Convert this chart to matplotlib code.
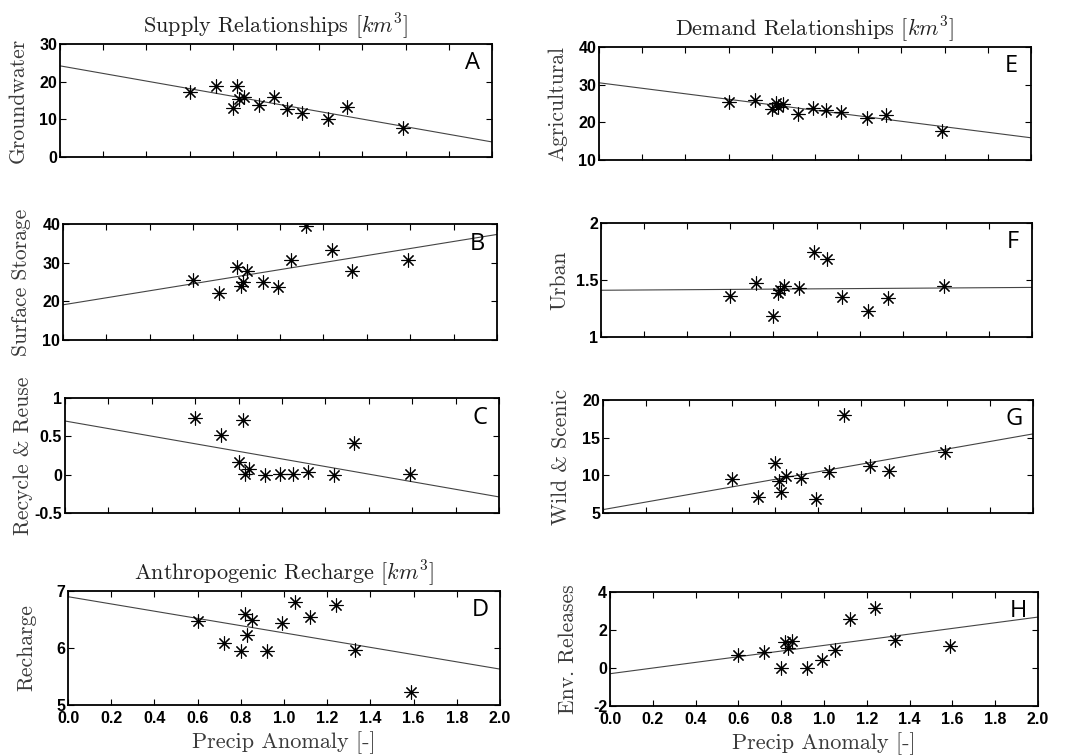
import matplotlib
matplotlib.use("Agg")
import matplotlib.pyplot as plt
import numpy as np
from matplotlib.ticker import FuncFormatter

plt.rcParams["mathtext.fontset"] = "cm"
plt.rcParams["axes.unicode_minus"] = False

# precipitation anomaly (shared x)
precip = [0.60, 0.72, 0.80, 0.82, 0.83, 0.85, 0.92, 0.99, 1.05, 1.12, 1.24, 1.33, 1.59]

# supply side
groundwater = [17.2, 18.9, 13.0, 18.9, 15.4, 16.0, 13.8, 15.8, 12.8, 11.7, 10.2, 13.2, 7.7]
surface_storage = [25.4, 22.2, 28.9, 24.0, 25.1, 27.8, 25.1, 23.6, 30.6, 39.6, 33.2, 27.8, 30.8]
recycle_reuse = [0.74, 0.52, 0.17, 0.71, 0.01, 0.07, -0.01, 0.01, 0.01, 0.04, -0.01, 0.41, 0.01]
recharge = [6.48, 6.09, 5.95, 6.60, 6.23, 6.50, 5.95, 6.43, 6.80, 6.54, 6.75, 5.97, 5.22]

# demand side
agricultural = [25.4, 26.0, 23.5, 25.2, 24.0, 24.9, 22.1, 23.7, 23.2, 22.8, 21.1, 22.0, 17.6]
urban = [1.36, 1.475, 1.18, 1.39, 1.41, 1.45, 1.43, 1.75, 1.68, 1.35, 1.225, 1.34, 1.445]
wild_scenic = [9.5, 7.1, 11.6, 9.3, 7.8, 9.9, 9.6, 6.8, 10.4, 18.0, 11.2, 10.6, 13.1]
env_releases = [0.67, 0.85, -0.02, 1.35, 1.05, 1.40, -0.02, 0.40, 0.96, 2.60, 3.18, 1.46, 1.17]

# fitted lines: (value at 0, value at 2)
fits = {
    "A": (24.2, 4.0),
    "B": (19.1, 37.3),
    "C": (0.70, -0.29),
    "D": (6.90, 5.63),
    "E": (30.5, 15.9),
    "F": (1.41, 1.435),
    "G": (5.45, 15.5),
    "H": (-0.30, 2.68),
}

ylabels = {
    "A": "Groundwater", "B": "Surface Storage", "C": "Recycle & Reuse", "D": "Recharge",
    "E": "Agricultural", "F": "Urban", "G": "Wild & Scenic", "H": "Env. Releases",
}
ylims = {"A": (0, 30), "B": (10, 40), "C": (-0.5, 1), "D": (5, 7),
         "E": (10, 40), "F": (1, 2), "G": (5, 20), "H": (-2, 4)}
yticks = {"A": [0, 10, 20, 30], "B": [10, 20, 30, 40], "C": [-0.5, 0, 0.5, 1],
          "D": [5, 6, 7], "E": [10, 20, 30, 40], "F": [1, 1.5, 2],
          "G": [5, 10, 15, 20], "H": [-2, 0, 2, 4]}
series = {"A": groundwater, "B": surface_storage, "C": recycle_reuse, "D": recharge,
          "E": agricultural, "F": urban, "G": wild_scenic, "H": env_releases}

# axes boxes in pixels: left, top, right, bottom
boxes = {
    "A": (60, 44, 492, 157), "B": (63, 224, 497, 340),
    "C": (65, 398, 499, 513), "D": (68, 591, 500, 705),
    "E": (599, 47, 1031, 160), "F": (601, 223, 1032, 337),
    "G": (603, 400, 1033, 513), "H": (610, 592, 1038, 706),
}
titles = {"A": r"Supply Relationships $[km^3]$",
          "E": r"Demand Relationships $[km^3]$",
          "D": r"Anthropogenic Recharge $[km^3]$"}

W, H = 1083, 756
fig = plt.figure(figsize=(W / 100, H / 100), dpi=100, facecolor="white")

serif = "cmr10"
xfit = np.array([0.0, 2.0])

for key, (l, t, r, b) in boxes.items():
    ax = fig.add_axes([l / W, 1 - b / H, (r - l) / W, (b - t) / H])
    y = series[key]
    ax.plot(precip, y, linestyle="none", marker=(8, 2, 0), markersize=10,
            markeredgewidth=0.8, color="black", zorder=3)
    y0, y2 = fits[key]
    ax.plot(xfit, [y0, y2], color="#444444", linewidth=0.8, zorder=2)

    ax.set_xlim(0, 2)
    ax.set_ylim(*ylims[key])
    ax.set_xticks(np.arange(0, 2.01, 0.2))
    ax.set_yticks(yticks[key])
    ax.yaxis.set_major_formatter(FuncFormatter(lambda v, p: "%g" % v))
    ax.xaxis.set_major_formatter(FuncFormatter(lambda v, p: "%.1f" % v))
    ax.tick_params(direction="in", length=4, width=0.8, top=True, right=True, pad=2)
    ax.tick_params(axis="x", pad=4)
    for lab in ax.get_xticklabels() + ax.get_yticklabels():
        lab.set_fontfamily("Liberation Sans")
        lab.set_fontweight("bold")
        lab.set_fontsize(11.5)
    if key not in ("D", "H"):
        ax.tick_params(labelbottom=False)
    for sp in ax.spines.values():
        sp.set_linewidth(1.3)

    ax.set_ylabel(ylabels[key], fontfamily=serif, fontsize=15.5, color="#3a3a3a")
    ax.yaxis.set_label_coords(-32 / (r - l), 0.5)
    if key in ("D", "H"):
        ax.set_xlabel("Precip Anomaly [-]", fontfamily=serif, fontsize=16,
                      color="#3a3a3a", labelpad=4)
    if key in titles:
        ax.set_title(titles[key], fontfamily=serif, fontsize=16, color="#222222", pad=8)

    ax.text(0.955, 0.83, key, transform=ax.transAxes, ha="center", va="center",
            fontfamily="Open Sans", fontsize=17, color="black")

fig.savefig("out.png", dpi=100)
